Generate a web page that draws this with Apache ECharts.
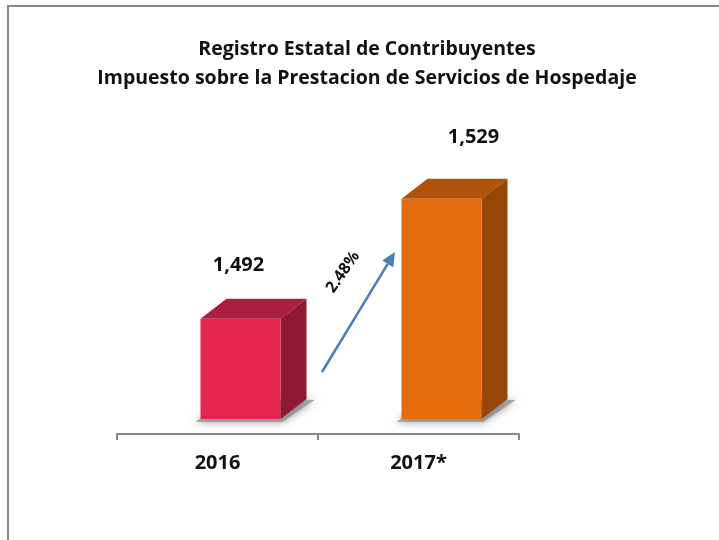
<!DOCTYPE html>
<html>
<head>
<meta charset="utf-8">
<script src="https://cdn.jsdelivr.net/npm/echarts@6/dist/echarts.min.js"></script>
<style>
html,body{margin:0;padding:0;background:#fff;}
#main{width:719px;height:540px;}
</style>
</head>
<body>
<div id="main"></div>
<script>
var categories = ['2016', '2017*'];
var values = [1492, 1529];
var titleLines = ['Registro Estatal de Contribuyentes', 'Impuesto sobre la Prestacion de Servicios de Hospedaje'];

var FONT = '"Open Sans", "Noto Sans", sans-serif';
var palette = [
  {front: '#E3254F', top: '#AC1E3E', side: '#8F1832'},
  {front: '#E46C0A', top: '#B05308', side: '#964607'}
];
var labelShift = [[-2, -33], [32, -42]];
var DX = 26, DY = -20, FRONT_OFF = -17, FRONT_W = 80;

var chart = echarts.init(document.getElementById('main'), null, {renderer: 'canvas'});

function renderItem(params, api) {
  var idx = api.value(0);
  var v = api.value(1);
  var top = api.coord([idx, v]);
  var base = api.coord([idx, 1461]);
  var x0 = top[0] + FRONT_OFF, x1 = x0 + FRONT_W;
  var yt = top[1], yb = base[1];
  var c = palette[idx];
  var ls = labelShift[idx];
  return {
    type: 'group',
    children: [
      {type: 'polygon', shape: {points: [[x0 - 5, yb + 3], [x1 + 2, yb + 3], [x1 + DX + 8, yb + DY + 1], [x0 + DX, yb + DY]]},
        style: {fill: 'rgba(130,130,130,0.65)', shadowBlur: 8, shadowColor: 'rgba(90,90,90,0.9)'}},
      {type: 'polygon', shape: {points: [[x0, yt], [x1, yt], [x1 + DX, yt + DY], [x0 + DX, yt + DY]]},
        style: {fill: c.top}},
      {type: 'polygon', shape: {points: [[x1, yt], [x1 + DX, yt + DY], [x1 + DX, yb + DY], [x1, yb]]},
        style: {fill: c.side}},
      {type: 'rect', shape: {x: x0, y: yt, width: FRONT_W, height: yb - yt},
        style: {fill: c.front}},
      {type: 'text', x: (x0 + x1) / 2 + ls[0], y: yt + DY + ls[1],
        style: {text: echarts.format.addCommas(v), font: 'bold 20px ' + FONT, fill: '#111', align: 'center', verticalAlign: 'middle'}}
    ]
  };
}

var pct = ((values[1] - values[0]) / values[0] * 100).toFixed(2) + '%';

function arrowGraphic() {
  var sx = 322, sy = 372, ex = 395, ey = 252;
  var ang = Math.atan2(ey - sy, ex - sx);
  var hl = 14, hw = 6.5;
  var bx = ex - hl * Math.cos(ang), by = ey - hl * Math.sin(ang);
  var px = -Math.sin(ang), py = Math.cos(ang);
  return [
    {type: 'line', shape: {x1: sx, y1: sy, x2: bx, y2: by}, style: {stroke: '#4A7EBB', lineWidth: 2.5}},
    {type: 'polygon', shape: {points: [[ex, ey], [bx + px * hw, by + py * hw], [bx - px * hw, by - py * hw]]}, style: {fill: '#4A7EBB'}},
    {type: 'text', x: 343, y: 272, rotation: 55 * Math.PI / 180,
      style: {text: pct, font: 'bold 16px ' + FONT, fill: '#111', align: 'center', verticalAlign: 'middle'}},
    {type: 'rect', shape: {x: 8, y: 6, width: 740, height: 560}, style: {fill: null, stroke: '#888', lineWidth: 2}, silent: true}
  ];
}

chart.setOption({
  animation: false,
  title: {
    text: titleLines.join('\n'),
    left: 362, top: 30, textAlign: 'center',
    textStyle: {fontFamily: FONT, fontWeight: 'bold', fontSize: 19.5, lineHeight: 29, color: '#111'}
  },
  grid: {left: 117, right: 200, top: 160, bottom: 121},
  xAxis: {
    type: 'category', data: categories, offset: 15,
    axisLine: {show: true, lineStyle: {color: '#888', width: 2}},
    axisTick: {show: true, length: 6, alignWithLabel: false, lineStyle: {color: '#888', width: 2}},
    axisLabel: {margin: 19, fontFamily: FONT, fontWeight: 'bold', fontSize: 20, color: '#111'}
  },
  yAxis: {type: 'value', min: 1461, max: 1541, show: false, splitLine: {show: false}},
  series: [{
    type: 'custom', renderItem: renderItem,
    data: values.map(function (v, i) { return [i, v]; }),
    encode: {x: 0, y: 1}
  }],
  graphic: arrowGraphic()
});
</script>
</body>
</html>
